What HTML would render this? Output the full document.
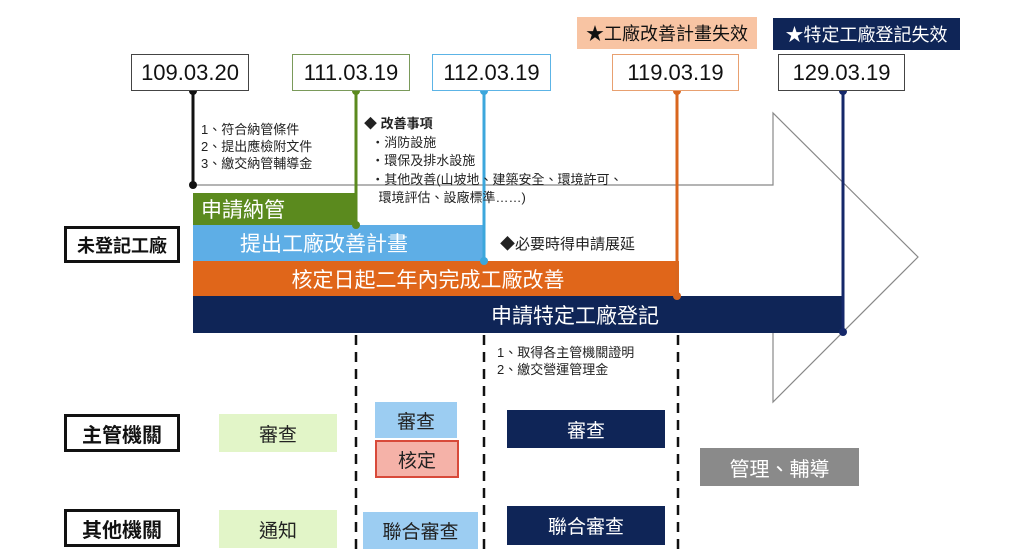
<!DOCTYPE html>
<html><head><meta charset="utf-8"><style>
body{margin:0;width:1022px;height:560px;background:#fff;position:relative;overflow:hidden;font-family:"Liberation Sans","Noto Sans CJK TC",sans-serif}
.a{position:absolute;box-sizing:border-box;display:flex;align-items:center;justify-content:center;white-space:nowrap}
.d{font-size:22px;color:#111;background:#fff;border:1.5px solid}
.t{position:absolute;font-size:13px;line-height:17px;color:#222;white-space:nowrap}
.lab{border:3px solid #111;font-size:20px;font-weight:bold;color:#111;background:#fff}
</style></head><body>
<svg width="1022" height="560" style="position:absolute;left:0;top:0">
<polyline points="193,185 773,185 773,113 918,257 773,402 773,332" fill="none" stroke="#888" stroke-width="1.2"/>
<rect x="193" y="193" width="163" height="32" fill="#5b8a1e"/>
<rect x="193" y="225" width="291" height="36" fill="#5eaee6"/>
<rect x="193" y="261" width="486" height="36" fill="#e0661a"/>
<rect x="193" y="296" width="650" height="37" fill="#0f2557"/>
<g stroke-width="3">
<line x1="193" y1="91" x2="193" y2="185" stroke="#111"/>
<line x1="356" y1="91" x2="356" y2="225" stroke="#5b8a1e"/>
<line x1="484" y1="91" x2="484" y2="261" stroke="#3ca7dc"/>
<line x1="677" y1="91" x2="677" y2="296" stroke="#d9661e"/>
<line x1="843" y1="91" x2="843" y2="332" stroke="#15286a"/>
</g>
<g><circle cx="193" cy="91" r="4" fill="#111"/><circle cx="193" cy="185" r="4" fill="#111"/>
<circle cx="356" cy="91" r="4" fill="#5b8a1e"/><circle cx="356" cy="225" r="4" fill="#5b8a1e"/>
<circle cx="484" cy="91" r="4" fill="#3ca7dc"/><circle cx="484" cy="261" r="4" fill="#3ca7dc"/>
<circle cx="677" cy="91" r="4" fill="#d9661e"/><circle cx="677" cy="296" r="4" fill="#d9661e"/>
<circle cx="843" cy="91" r="4" fill="#15286a"/><circle cx="843" cy="332" r="4" fill="#15286a"/></g>
<g stroke="#111" stroke-width="2.5" stroke-dasharray="10,7">
<line x1="356" y1="335" x2="356" y2="550"/><line x1="484" y1="335" x2="484" y2="550"/><line x1="678" y1="335" x2="678" y2="550"/></g>
</svg>
<div class="a" style="left:577px;top:17px;width:180px;height:32px;background:#f8c4a3;font-size:18px;color:#111">★工廠改善計畫失效</div>
<div class="a" style="left:773px;top:18px;width:187px;height:32px;background:#0f2557;font-size:18px;color:#fff">★特定工廠登記失效</div>
<div class="a d" style="left:131px;top:54px;width:118px;height:37px;border-color:#444">109.03.20</div>
<div class="a d" style="left:292px;top:54px;width:118px;height:37px;border-color:#7a9a5a">111.03.19</div>
<div class="a d" style="left:432px;top:54px;width:119px;height:37px;border-color:#5cb4e6">112.03.19</div>
<div class="a d" style="left:612px;top:54px;width:127px;height:37px;border-color:#e8a070">119.03.19</div>
<div class="a d" style="left:778px;top:54px;width:127px;height:37px;border-color:#444">129.03.19</div>
<div class="t" style="left:201px;top:121px">1、符合納管條件<br>2、提出應檢附文件<br>3、繳交納管輔導金</div>
<div class="t" style="left:364px;top:115px;line-height:18.5px"><b>◆ 改善事項</b><br>&nbsp;&nbsp;・消防設施<br>&nbsp;&nbsp;・環保及排水設施<br>&nbsp;&nbsp;・其他改善(山坡地、建築安全、環境許可、<br>&nbsp;&nbsp;&nbsp;&nbsp;環境評估、設廠標準……)</div>
<div class="t" style="left:500px;top:236px;font-size:15px">◆必要時得申請展延</div>
<div class="a" style="left:193px;top:193px;width:100px;height:32px;color:#fff;font-size:21px;justify-content:flex-start;padding-left:8px">申請納管</div>
<div class="a" style="left:193px;top:225px;width:262px;height:36px;color:#fff;font-size:21px">提出工廠改善計畫</div>
<div class="a" style="left:193px;top:261px;width:470px;height:36px;color:#fff;font-size:21px">核定日起二年內完成工廠改善</div>
<div class="a" style="left:425px;top:296px;width:300px;height:37px;color:#fff;font-size:21px">申請特定工廠登記</div>
<div class="a lab" style="left:64px;top:226px;width:116px;height:37px;font-size:18px">未登記工廠</div>
<div class="t" style="left:497px;top:344px">1、取得各主管機關證明<br>2、繳交營運管理金</div>
<div class="a lab" style="left:64px;top:414px;width:116px;height:38px">主管機關</div>
<div class="a lab" style="left:64px;top:509px;width:116px;height:38px">其他機關</div>
<div class="a" style="left:219px;top:414px;width:118px;height:38px;background:#e2f5c8;font-size:19px;color:#222">審查</div>
<div class="a" style="left:219px;top:510px;width:118px;height:38px;background:#e2f5c8;font-size:19px;color:#222">通知</div>
<div class="a" style="left:375px;top:402px;width:82px;height:36px;background:#9ccdf2;font-size:19px;color:#222">審查</div>
<div class="a" style="left:375px;top:440px;width:84px;height:38px;background:#f5b2a8;border:2.5px solid #d84a3a;font-size:19px;color:#222">核定</div>
<div class="a" style="left:363px;top:512px;width:115px;height:37px;background:#9ccdf2;font-size:19px;color:#222">聯合審查</div>
<div class="a" style="left:507px;top:410px;width:158px;height:38px;background:#0f2557;font-size:19px;color:#fff">審查</div>
<div class="a" style="left:507px;top:506px;width:158px;height:39px;background:#0f2557;font-size:19px;color:#fff">聯合審查</div>
<div class="a" style="left:700px;top:448px;width:159px;height:38px;background:#8a8a8a;font-size:20px;color:#fff">管理、輔導</div>
</body></html>
